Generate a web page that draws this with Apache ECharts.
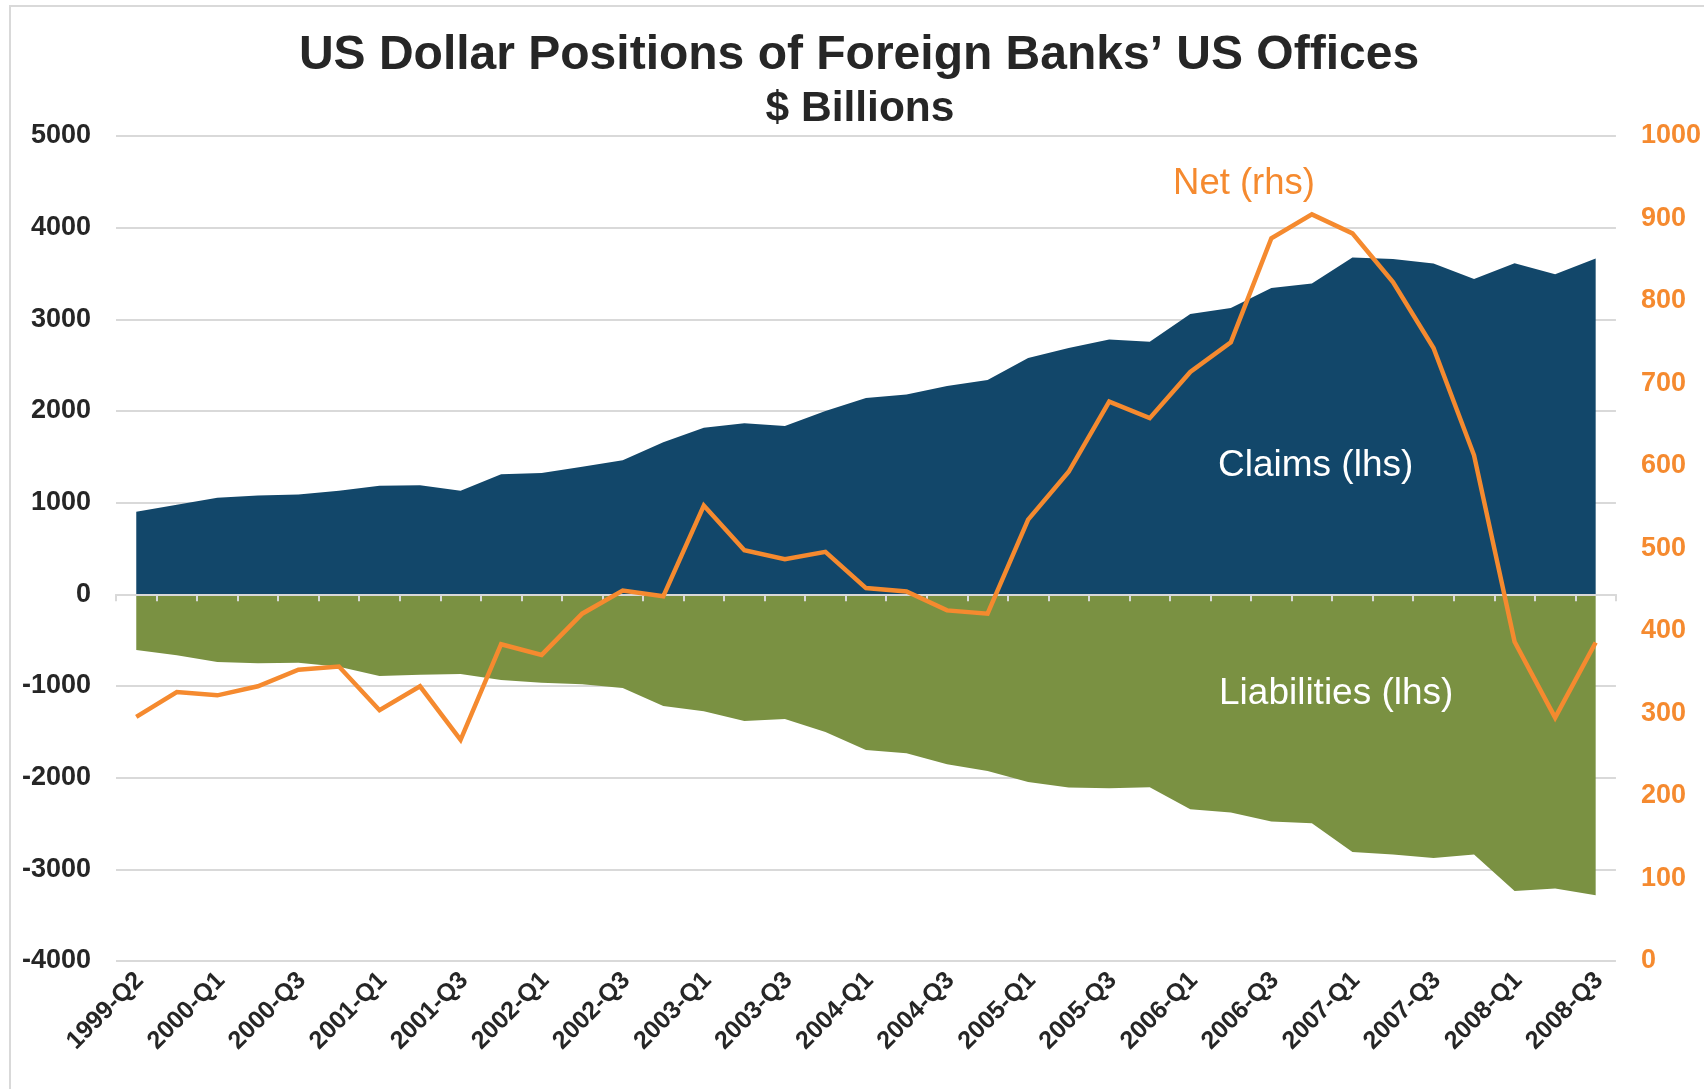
<!DOCTYPE html>
<html>
<head>
<meta charset="utf-8">
<script src="https://cdn.jsdelivr.net/npm/echarts@6/dist/echarts.min.js"></script>
<style>
  html, body { margin: 0; padding: 0; background: #ffffff; }
  #chart { width: 1704px; height: 1089px; }
</style>
</head>
<body>
<div id="chart"></div>
<script>
// Categories (quarters)
const categories = [
  '1999-Q2','1999-Q4',
  '2000-Q1','2000-Q2','2000-Q3','2000-Q4',
  '2001-Q1','2001-Q2','2001-Q3','2001-Q4',
  '2002-Q1','2002-Q2','2002-Q3','2002-Q4',
  '2003-Q1','2003-Q2','2003-Q3','2003-Q4',
  '2004-Q1','2004-Q2','2004-Q3','2004-Q4',
  '2005-Q1','2005-Q2','2005-Q3','2005-Q4',
  '2006-Q1','2006-Q2','2006-Q3','2006-Q4',
  '2007-Q1','2007-Q2','2007-Q3','2007-Q4',
  '2008-Q1','2008-Q2','2008-Q3'
];
// Claims (lhs), $ billions
const claims = [900, 978, 1053, 1078, 1089, 1129, 1184, 1191, 1129, 1311, 1325, 1391, 1463, 1659, 1816, 1866, 1837, 2000, 2142, 2179, 2273, 2338, 2578, 2687, 2781, 2756, 3057, 3123, 3341, 3391, 3675, 3657, 3609, 3439, 3613, 3493, 3663];
// Liabilities (lhs), $ billions
const liabilities = [-607, -665, -738, -752, -745, -789, -891, -876, -869, -935, -964, -981, -1021, -1218, -1276, -1381, -1359, -1501, -1698, -1734, -1854, -1927, -2047, -2108, -2116, -2105, -2345, -2381, -2479, -2497, -2810, -2839, -2876, -2839, -3235, -3210, -3282];
// Net (rhs), $ billions
const net = [296, 326, 322, 333, 353, 357, 304, 333, 268, 384, 371, 421, 449, 442, 552, 498, 487, 496, 452, 448, 425, 421, 535, 593, 678, 658, 714, 750, 876, 905, 882, 823, 743, 613, 387, 295, 386];
// Axis ranges
const leftAxis = { min: -4000, max: 5000, interval: 1000 };
const rightAxis = { min: 0, max: 1000, interval: 100 };

const FONT = '"Liberation Sans", Arial, sans-serif';
const BLUE = '#12476a';
const GREEN = '#7a9142';
const ORANGE = '#f58a2f';
const GRID = '#d9d9d9';
const TEXT = '#262626';

const chart = echarts.init(document.getElementById('chart'), null, { renderer: 'canvas' });

function txt(text, x, y, size, color, weight, align) {
  return {
    type: 'text', z: 100,
    style: {
      text: text, x: x, y: y,
      font: (weight || 'normal') + ' ' + size + 'px ' + FONT,
      fill: color,
      textAlign: align || 'center', align: align || 'center',
      textVerticalAlign: 'middle', verticalAlign: 'middle'
    }
  };
}

const plain = function (v) { return String(v); };

const option = {
  backgroundColor: '#ffffff',
  animation: false,
  grid: { left: 116, right: 88, top: 136, bottom: 128, containLabel: false },
  graphic: [
    { type: 'rect', z: -10, shape: { x: 10, y: 6, width: 1720, height: 1120 },
      style: { fill: 'none', stroke: '#d9d9d9', lineWidth: 2 } },
    txt('US Dollar Positions of Foreign Banks\u2019 US Offices', 859, 56, 48, TEXT, 'bold'),
    txt('$ Billions', 860, 109, 42.5, TEXT, 'bold'),
    txt('Net (rhs)', 1244, 184, 36.5, ORANGE, 'normal'),
    txt('Claims (lhs)', 1218, 466, 37, '#ffffff', 'normal', 'left'),
    txt('Liabilities (lhs)', 1219, 694, 37, '#ffffff', 'normal', 'left')
  ],
  xAxis: [
    {
      type: 'category', data: categories, boundaryGap: true, position: 'bottom',
      axisLine: { show: false, onZero: false },
      axisTick: { show: false },
      axisLabel: {
        interval: 1, rotate: 45, margin: 19, padding: [0, -5, 0, 0],
        color: TEXT, fontFamily: FONT, fontWeight: 'bold', fontSize: 25
      },
      splitLine: { show: false }
    },
    {
      type: 'category', data: categories, boundaryGap: true, position: 'bottom', z: 4,
      axisLine: { show: true, onZero: true, onZeroAxisIndex: 0, lineStyle: { color: GRID, width: 2 } },
      axisTick: { show: true, interval: 0, length: 7, lineStyle: { color: GRID, width: 2 } },
      axisLabel: { show: false },
      splitLine: { show: false }
    }
  ],
  yAxis: [
    {
      type: 'value', min: leftAxis.min, max: leftAxis.max, interval: leftAxis.interval, position: 'left',
      axisLine: { show: false }, axisTick: { show: false },
      axisLabel: { margin: 25, formatter: plain, color: TEXT, fontFamily: FONT, fontWeight: 'bold', fontSize: 27 },
      splitLine: { show: true, lineStyle: { color: GRID, width: 2 } }
    },
    {
      type: 'value', min: rightAxis.min, max: rightAxis.max, interval: rightAxis.interval, position: 'right',
      axisLine: { show: false }, axisTick: { show: false },
      axisLabel: { margin: 25, formatter: plain, color: ORANGE, fontFamily: FONT, fontWeight: 'bold', fontSize: 27 },
      splitLine: { show: false }
    }
  ],
  series: [
    {
      name: 'Claims (lhs)', type: 'line', xAxisIndex: 0, yAxisIndex: 0, data: claims,
      symbol: 'none', lineStyle: { width: 0 }, areaStyle: { color: BLUE, opacity: 1, origin: 0 }, z: 2
    },
    {
      name: 'Liabilities (lhs)', type: 'line', xAxisIndex: 0, yAxisIndex: 0, data: liabilities,
      symbol: 'none', lineStyle: { width: 0 }, areaStyle: { color: GREEN, opacity: 1, origin: 0 }, z: 2
    },
    {
      name: 'Net (rhs)', type: 'line', xAxisIndex: 0, yAxisIndex: 1, data: net,
      symbol: 'none', lineStyle: { width: 4.5, color: ORANGE, join: 'miter' }, z: 6
    }
  ]
};
chart.setOption(option);
</script>
</body>
</html>
